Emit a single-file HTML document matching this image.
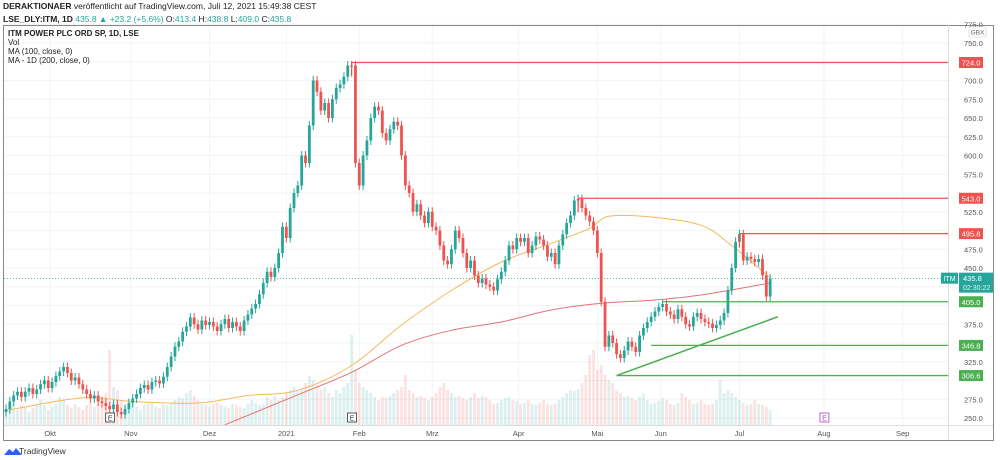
<!DOCTYPE html>
<html><head><meta charset="utf-8"><style>
body{margin:0;background:#fff;width:1000px;height:460px;overflow:hidden;font-family:"Liberation Sans",sans-serif}
svg{display:block}
</style></head><body>
<svg id="c" width="1000" height="460" viewBox="0 0 1000 460" xmlns="http://www.w3.org/2000/svg" font-family="Liberation Sans, sans-serif">
<text x="3" y="9" font-size="8.5" fill="#222"><tspan font-weight="bold">DERAKTIONAER</tspan> veröffentlicht auf TradingView.com, Juli 12, 2021 15:49:38 CEST</text>
<text x="3" y="22" font-size="8.5" fill="#222"><tspan font-weight="bold">LSE_DLY:ITM, 1D</tspan> <tspan fill="#26a69a">435.8 ▲ +23.2 (+5.6%)</tspan> O:<tspan fill="#26a69a">413.4</tspan> H:<tspan fill="#26a69a">438.8</tspan> L:<tspan fill="#26a69a">409.0</tspan> C:<tspan fill="#26a69a">435.8</tspan></text>
<rect x="3.5" y="25.5" width="990" height="415" fill="none" stroke="#888"/>
<line x1="948.5" y1="25" x2="948.5" y2="440" stroke="#ddd"/>
<line x1="4" y1="425.5" x2="993" y2="425.5" stroke="#ddd"/>
<g id="grid"></g>
<g id="vol"></g>
<g id="ma"></g>
<g id="candles"></g>
<g id="levels"></g>
<g id="axes"></g>
<text x="8" y="36" font-size="8" font-weight="bold" fill="#222">ITM POWER PLC ORD SP, 1D, LSE</text>
<text x="8" y="45" font-size="8" fill="#222">Vol</text>
<text x="8" y="54" font-size="8" fill="#222">MA (100, close, 0)</text>
<text x="8" y="63" font-size="8" fill="#222">MA - 1D (200, close, 0)</text>
<g>
<path d="M4 455 L9 449 L13 452 L16 448 L22 455 Z" fill="#2962ff"/>
<text x="19" y="454" font-size="8.5" fill="#333">TradingView</text>
</g>
</svg>
<script>
const closes=[262,272,280,285,278,285,290,282,288,295,300,290,298,306,312,318,310,300,304,295,288,282,276,280,272,270,266,262,268,258,255,262,270,276,282,290,294,288,298,300,296,305,318,332,345,352,365,372,384,375,368,380,374,378,372,366,375,382,370,378,372,366,380,388,396,402,415,430,445,438,450,470,505,490,530,550,560,600,590,640,700,685,660,670,650,675,690,695,705,720,720,590,560,600,620,650,665,660,630,620,635,645,640,600,560,550,525,535,520,510,525,505,500,480,460,455,475,500,490,470,450,460,440,430,436,428,425,420,435,445,460,480,475,490,485,490,470,480,492,488,480,465,470,455,480,495,510,520,540,542,530,520,512,500,470,405,345,360,350,335,330,340,352,345,338,360,370,378,385,392,398,402,392,388,382,395,385,375,372,385,390,382,378,376,370,374,380,390,420,450,485,495,460,465,462,458,462,440,412,435.8];
const volumes=[14,18,21,15,20,18,13,17,21,25,20,15,18,21,28,25,20,17,21,18,15,20,22,18,21,28,32,75,38,35,25,20,17,21,18,15,20,21,22,18,17,21,20,22,25,28,27,32,35,29,25,21,20,18,21,22,20,18,17,21,20,18,17,21,25,22,20,21,28,25,29,25,28,32,35,38,34,35,42,49,45,40,35,38,32,28,35,32,38,42,90,55,42,38,35,32,28,25,28,27,29,32,35,38,50,35,32,28,29,27,25,28,32,38,42,35,32,28,29,27,25,28,32,27,29,28,25,21,22,25,27,28,25,24,21,22,25,21,20,22,25,21,20,21,25,28,32,35,34,36,42,50,70,75,55,60,50,45,42,35,32,28,29,27,25,28,32,25,21,22,24,27,25,21,20,22,32,28,25,21,22,25,21,20,21,25,45,32,35,32,28,25,22,20,21,25,21,20,18,15];
const ma100Idx=[0,20,33,50,63,76,90,103,116,129,142,152,157,168,181,189,199];
const ma100Val=[260,277,272,270,280,287,320,374,420,458,483,503,519,518,507,480,437];
const ma200Idx=[57,76,90,103,116,129,142,155,168,181,199];
const ma200Val=[241,281,311,347,367,378,394,403,407,414,430];
const priceTicks=[775,750,725,700,675,650,625,600,575,550,525,500,475,450,425,400,375,350,325,300,275,250];
const monthLabels=["Okt","Nov","Dez","2021","Feb","Mrz","Apr","Mai","Jun","Jul","Aug","Sep"];
const monthBars=[11.5,32.5,53,73,92,111,133.5,154,170.5,191,213,233.5];
const levelVals=[724.0,543.0,495.8,405.0,346.8,306.6];
const levelStart=[90,149,191,171,168,159];
const levelColor=["#ef5350","#ef5350","#ef5350","#4caf50","#4caf50","#4caf50"];
const trendIdx=[159,201];
const trendVal=[306.6,385];
const lastPrice=435.8;

const NS="http://www.w3.org/2000/svg";
const X0=6,STEP=3.84,PX=948;
const xs=i=>X0+i*STEP;
const ys=p=>43+(750-p)*0.75;
const yv=v=>425-v;
function mk(t,a,parent){const e=document.createElementNS(NS,t);for(const k in a)e.setAttribute(k,a[k]);parent.appendChild(e);return e;}
const G=id=>document.getElementById(id);
priceTicks.forEach(p=>{const l=mk('line',{x1:4,x2:PX,y1:ys(p),y2:ys(p),stroke:'#f2f3f5'},G('grid'));

});
monthBars.forEach(b=>{const l=mk('line',{x1:xs(b),x2:xs(b),y1:26,y2:425,stroke:'#f2f3f5'},G('grid'));

});
volumes.forEach((v,i)=>{const o=i?closes[i-1]:258,c=closes[i];
const r=mk('rect',{x:xs(i)-1.4,y:yv(v),width:2.8,height:v,fill:c>=o?'rgba(38,166,154,0.16)':'rgba(239,83,80,0.16)'},G('vol'));

});
function path(idx,val){const P=idx.map((b,k)=>[xs(b),ys(val[k])]);let d='M'+P[0][0].toFixed(1)+' '+P[0][1].toFixed(1);
for(let k=0;k<P.length-1;k++){const p0=P[Math.max(0,k-1)],p1=P[k],p2=P[k+1],p3=P[Math.min(P.length-1,k+2)];
const c1=[p1[0]+(p2[0]-p0[0])/6,p1[1]+(p2[1]-p0[1])/6],c2=[p2[0]-(p3[0]-p1[0])/6,p2[1]-(p3[1]-p1[1])/6];
d+=' C'+c1.map(n=>n.toFixed(1)).join(' ')+' '+c2.map(n=>n.toFixed(1)).join(' ')+' '+p2[0].toFixed(1)+' '+p2[1].toFixed(1);}return d;}
const m1=mk('path',{d:path(ma100Idx,ma100Val),fill:'none',stroke:'#f5b85a','stroke-width':1},G('ma'));


const m2=mk('path',{d:path(ma200Idx,ma200Val),fill:'none',stroke:'#e57373','stroke-width':1},G('ma'));


closes.forEach((c,i)=>{const o=i?closes[i-1]:258;const up=c>=o;const col=up?'#26a69a':'#ef5350';
const hi=Math.max(o,c)+6,lo=Math.min(o,c)-6;const x=xs(i);
const w=mk('line',{x1:x,x2:x,y1:ys(hi),y2:ys(lo),stroke:col,'stroke-width':1},G('candles'));


const top=ys(Math.max(o,c)),h=Math.max(1,ys(Math.min(o,c))-top);
const b=mk('rect',{x:x-1.4,y:top,width:2.8,height:h,fill:col},G('candles'));

});
const lp=mk('line',{x1:4,x2:PX,y1:ys(lastPrice),y2:ys(lastPrice),stroke:'#26a69a','stroke-dasharray':'1 2','stroke-width':0.7},G('levels'));


levelVals.forEach((v,k)=>{const l=mk('line',{x1:xs(levelStart[k]),x2:PX,y1:ys(v),y2:ys(v),stroke:levelColor[k],'stroke-width':1.3},G('levels'));


if(k<3){const s=mk('line',{x1:xs(levelStart[k]),x2:xs(levelStart[k]),y1:ys(v),y2:ys(v)+14,stroke:levelColor[k],'stroke-width':1.3},G('levels'));

}});
const tl=mk('line',{x1:xs(trendIdx[0]),x2:xs(trendIdx[1]),y1:ys(trendVal[0]),y2:ys(trendVal[1]),stroke:'#4caf50','stroke-width':1.5},G('levels'));


[[27,'#333'],[90,'#333'],[213,'#ab47bc']].forEach(([b,c])=>{const g=mk('g',{},G('levels'));


mk('rect',{x:xs(b)-4,y:413,width:9,height:9,fill:'#fff',stroke:c,'stroke-width':0.8},g);
const t=mk('text',{x:xs(b)+0.5,y:420.5,'font-size':7,'text-anchor':'middle',fill:c},g);t.textContent='E';});
priceTicks.forEach(p=>{if(levelVals.some(v=>Math.abs(ys(v)-ys(p))<8)||Math.abs(ys(lastPrice)-ys(p))<6&&p!==450)return;
const t=mk('text',{x:964,y:ys(p)+3,'font-size':7.5,fill:'#555'},G('axes'));t.textContent=p.toFixed(1);

});
const cur=mk('g',{},G('axes'));


mk('rect',{x:969,y:27,width:17,height:10,fill:'#fff',stroke:'#ccc','stroke-width':0.6,rx:1},cur);
const ct=mk('text',{x:977.5,y:34.5,'font-size':6.5,'text-anchor':'middle',fill:'#666'},cur);ct.textContent='GBX';
levelVals.forEach((v,k)=>{const g=mk('g',{},G('axes'));


mk('rect',{x:959,y:ys(v)-5.5,width:24,height:11,fill:levelColor[k]},g);
const t=mk('text',{x:971,y:ys(v)+3,'font-size':7.5,'text-anchor':'middle',fill:'#fff'},g);t.textContent=v.toFixed(1);});
const lt=mk('g',{},G('axes'));


mk('rect',{x:941,y:ys(lastPrice)-6,width:17,height:11,fill:'#26a69a'},lt);
const t1=mk('text',{x:949.5,y:ys(lastPrice)+2.5,'font-size':7,'text-anchor':'middle',fill:'#fff'},lt);t1.textContent='ITM';
mk('rect',{x:959,y:ys(lastPrice)-6,width:34,height:20,fill:'#26a69a'},lt);
const t2=mk('text',{x:963,y:ys(lastPrice)+2.5,'font-size':7.5,fill:'#fff'},lt);t2.textContent=lastPrice.toFixed(1);
const t3=mk('text',{x:963,y:ys(lastPrice)+11.5,'font-size':7,fill:'#e0f2f1'},lt);t3.textContent='02:30:22';
monthLabels.forEach((m,k)=>{const t=mk('text',{x:xs(monthBars[k]),y:436,'font-size':7.5,'text-anchor':'middle',fill:'#555'},G('axes'));t.textContent=m;

});
</script>
</body></html>
